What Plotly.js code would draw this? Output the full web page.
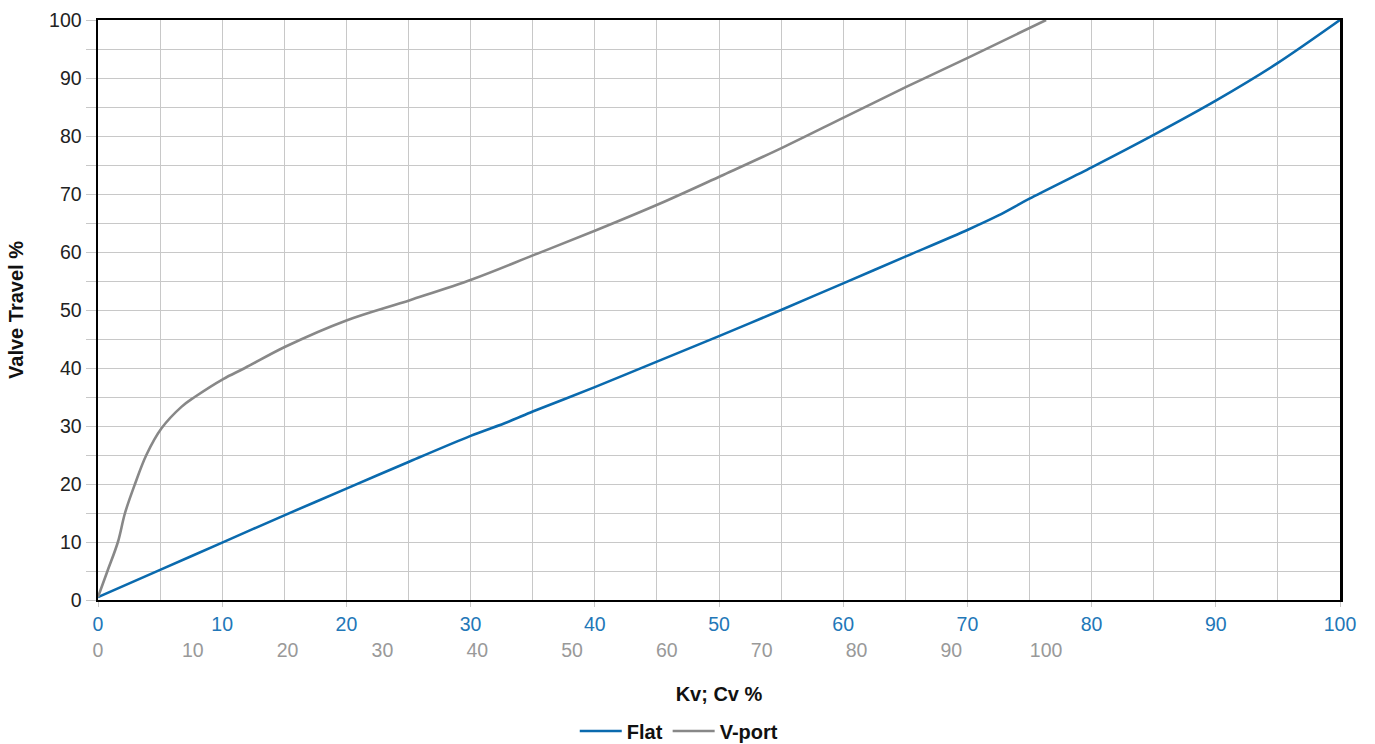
<!DOCTYPE html>
<html>
<head>
<meta charset="utf-8">
<script src="https://cdn.plot.ly/plotly-3.0.1.min.js"></script>
<style>html,body{margin:0;padding:0;background:#fff;}#chart{width:1375px;height:744px;}</style>
</head>
<body>
<div id="chart"></div>
<script>
// Flat characteristic (Kv/Cv % on the blue scale vs valve travel %)
const flatKv = [0, 5, 10, 15, 20, 25, 30, 33, 35, 40, 45, 50, 55, 60, 65, 70, 72.5, 75, 80, 85, 90, 95, 100];
const flatTravel = [0.5, 5.2, 9.9, 14.6, 19.2, 23.8, 28.3, 30.7, 32.5, 36.7, 41.1, 45.5, 50, 54.6, 59.2, 63.8, 66.3, 69.2, 74.6, 80.2, 86.1, 92.6, 100];

// V-port characteristic (Kv/Cv % on the grey scale vs valve travel %)
const vportKv = [0, 1, 2.1, 2.85, 3.9, 5.1, 6.7, 8.8, 10.2, 13.2, 15.5, 19.8, 26.2, 32.9, 39.5, 46, 52.6, 59.9, 65.7, 72.2, 78.8, 85.3, 91.9, 100];
const vportTravel = [0.5, 5, 10, 15, 20, 25, 29.6, 33.3, 35, 38.1, 40, 43.7, 48.2, 51.7, 55.3, 59.5, 63.8, 68.8, 73.1, 78, 83.3, 88.5, 93.6, 100];

// Tick labels
const flatTicks = [0, 10, 20, 30, 40, 50, 60, 70, 80, 90, 100];
const vportTicks = [0, 10, 20, 30, 40, 50, 60, 70, 80, 90, 100];
const travelTicks = [0, 10, 20, 30, 40, 50, 60, 70, 80, 90, 100];

const seriesNames = ['Flat', 'V-port'];
const blue = '#0a6aae';
const grey = '#888888';
const FONT = 'Liberation Sans, Arial, Helvetica, sans-serif';

const data = [
  {
    x: flatKv, y: flatTravel, name: seriesNames[0], type: 'scatter', mode: 'lines',
    line: {color: blue, width: 2.6, shape: 'spline', smoothing: 0.8},
    xaxis: 'x', yaxis: 'y', hoverinfo: 'x+y'
  },
  {
    x: vportKv, y: vportTravel, name: seriesNames[1], type: 'scatter', mode: 'lines',
    line: {color: grey, width: 2.6, shape: 'spline', smoothing: 1.0},
    xaxis: 'x2', yaxis: 'y', hoverinfo: 'x+y'
  }
];

const layout = {
  width: 1375, height: 744,
  margin: {l: 98, r: 35, t: 20, b: 10, autoexpand: false},
  paper_bgcolor: '#ffffff', plot_bgcolor: '#ffffff',
  font: {family: FONT, size: 19.5, color: '#222'},
  showlegend: true,
  legend: {
    orientation: 'h', x: 0.468, xanchor: 'center',
    yref: 'container', y: 0.0175, yanchor: 'middle',
    font: {family: FONT, size: 20, color: '#111', weight: 'bold'},
    itemwidth: 42, tracegroupgap: 0, traceorder: 'normal'
  },
  xaxis: {
    range: [0, 100], tickvals: flatTicks, ticktext: flatTicks.map(String),
    tickfont: {color: '#2277b8', size: 19.5, family: FONT},
    ticks: 'outside', ticklen: 5, tickwidth: 1, tickcolor: '#c8c8c8',
    showline: true, linecolor: '#000', linewidth: 2.5, mirror: true,
    showgrid: true, gridcolor: '#c8c8c8', gridwidth: 1,
    minor: {dtick: 5, showgrid: true, gridcolor: '#c8c8c8', gridwidth: 1, ticks: ''},
    zeroline: false, fixedrange: true, automargin: false
  },
  xaxis2: {
    overlaying: 'x', anchor: 'free', position: 0.136, side: 'bottom',
    range: [0, 131], tickvals: vportTicks, ticktext: vportTicks.map(String),
    tickfont: {color: '#999999', size: 19.5, family: FONT},
    ticks: '', showline: false, showgrid: false, zeroline: false,
    title: {text: 'Kv; Cv %', font: {family: FONT, size: 20, color: '#111', weight: 'bold'}, standoff: 26},
    fixedrange: true, automargin: false
  },
  yaxis: {
    domain: [0.18768, 1],
    range: [0, 100], tickvals: travelTicks, ticktext: travelTicks.map(String),
    tickfont: {color: '#222', size: 19.5, family: FONT},
    ticks: 'outside', ticklen: 10, tickwidth: 1, tickcolor: '#c8c8c8',
    showline: true, linecolor: '#000', linewidth: 2.5, mirror: true,
    showgrid: true, gridcolor: '#c8c8c8', gridwidth: 1,
    minor: {dtick: 5, showgrid: true, gridcolor: '#c8c8c8', gridwidth: 1, ticks: 'outside', ticklen: 10, tickcolor: '#c8c8c8', tickwidth: 1},
    zeroline: false, fixedrange: true, automargin: false,
    title: {text: 'Valve Travel %', font: {family: FONT, size: 20, color: '#111', weight: 'bold'}, standoff: 20}
  }
};

Plotly.newPlot('chart', data, layout, {displayModeBar: false, staticPlot: true});
</script>
</body>
</html>
